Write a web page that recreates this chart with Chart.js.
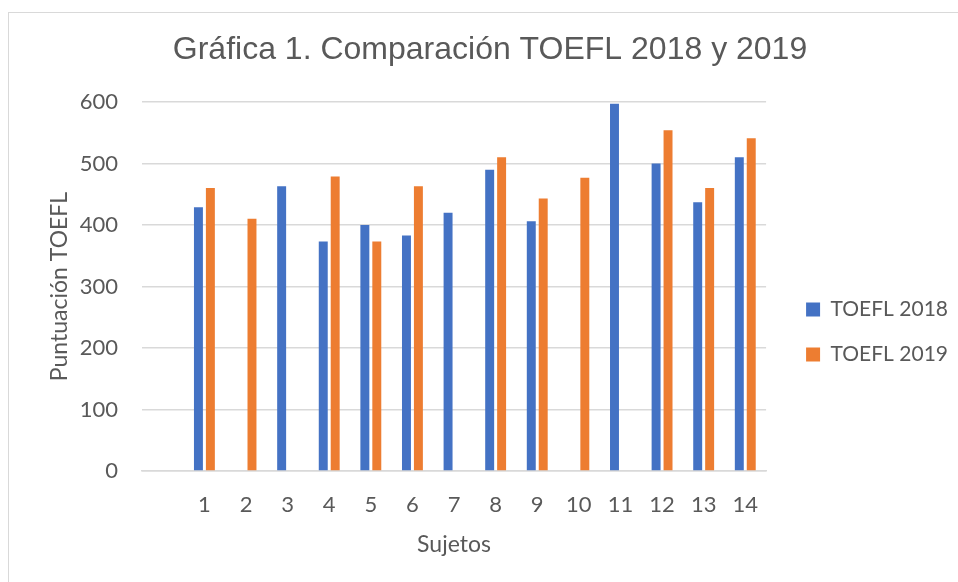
<!DOCTYPE html>
<html>
<head>
<meta charset="utf-8">
<script src="https://cdn.jsdelivr.net/npm/chart.js@4/dist/chart.umd.min.js"></script>
<style>
  body { margin: 0; background: #fff; }
  #frame { position: absolute; left: 8px; top: 12px; right: 0; bottom: 0;
           border-top: 1px solid #d9d9d9; border-left: 1px solid #d9d9d9; }
  #wrap { position: absolute; left: 0; top: 0; width: 958px; height: 582px; }
</style>
</head>
<body>
<div id="frame"></div>
<div id="wrap"><canvas id="myChart"></canvas></div>
<script>
let sujetos = ['', '1', '2', '3', '4', '5', '6', '7', '8', '9', '10', '11', '12', '13', '14'];
let toefl2018 = [null, 429, null, 463, 373, 400, 383, 420, 490, 406, null, 597, 500, 437, 510];
let toefl2019 = [null, 460, 410, null, 479, 373, 463, null, 510, 443, 477, null, 554, 460, 541];
let yTicks = [0, 100, 200, 300, 400, 500, 600];

let gray = '#595959';
let tickFont = { family: 'Lato', size: 22, lineHeight: 1 };
let axisTitleFont = { family: 'Lato', size: 23, lineHeight: 1 };

let ctx = document.getElementById('myChart').getContext('2d');

let chart = new Chart(ctx, {
    type: 'bar',
    data: {
        labels: sujetos,
        datasets: [
            {
                label: 'TOEFL 2018',
                data: toefl2018,
                backgroundColor: '#4472C4',
                categoryPercentage: 0.574,
                barPercentage: 0.75
            },
            {
                label: 'TOEFL 2019',
                data: toefl2019,
                backgroundColor: '#ED7D31',
                categoryPercentage: 0.574,
                barPercentage: 0.75
            }
        ]
    },
    options: {
        responsive: true,
        maintainAspectRatio: false,
        animation: false,
        layout: { padding: { left: 22, right: 0, top: 0, bottom: 0 } },
        plugins: {
            title: {
                display: true,
                text: 'Gráfica 1. Comparación TOEFL 2018 y 2019',
                color: gray,
                font: { family: 'Liberation Sans', size: 32, weight: 'normal', lineHeight: 1.2 },
                padding: { top: 30.8, bottom: 32.8 }
            },
            legend: {
                position: 'right',
                maxWidth: 300,
                labels: {
                    color: gray,
                    font: { family: 'Lato', size: 21 },
                    boxWidth: 14,
                    boxHeight: 14,
                    padding: 24
                },
                title: {
                    display: true,
                    text: '',
                    font: { size: 12 },
                    padding: { top: 0, bottom: 67.6 }
                }
            },
            tooltip: { enabled: false }
        },
        scales: {
            x: {
                afterFit: (scale) => { scale.height = 111; },
                grid: { display: false, drawTicks: false },
                border: { display: true, color: '#d9d9d9', width: 1.5 },
                ticks: { color: gray, font: tickFont, padding: 23, maxRotation: 0, autoSkip: false },
                title: {
                    display: true,
                    text: 'Sujetos',
                    color: gray,
                    font: axisTitleFont,
                    padding: { top: 0, bottom: 25.5 }
                }
            },
            y: {
                min: 0,
                max: 600,
                afterBuildTicks: (scale) => { scale.ticks = yTicks.map(v => ({ value: v })); },
                afterFit: (scale) => { scale.width = 120; },
                grid: { color: '#d9d9d9', lineWidth: 1.5, drawTicks: false },
                border: { display: false },
                ticks: { color: gray, font: tickFont, padding: 24 },
                title: {
                    display: true,
                    text: 'Puntuación TOEFL',
                    color: gray,
                    font: axisTitleFont,
                    padding: { top: 26.5, bottom: 10 }
                }
            },
            gap: {
                position: 'right',
                afterFit: (scale) => { scale.width = 16; },
                grid: { display: false, drawTicks: false },
                border: { display: false },
                ticks: { display: false }
            }
        }
    }
});
</script>
</body>
</html>
